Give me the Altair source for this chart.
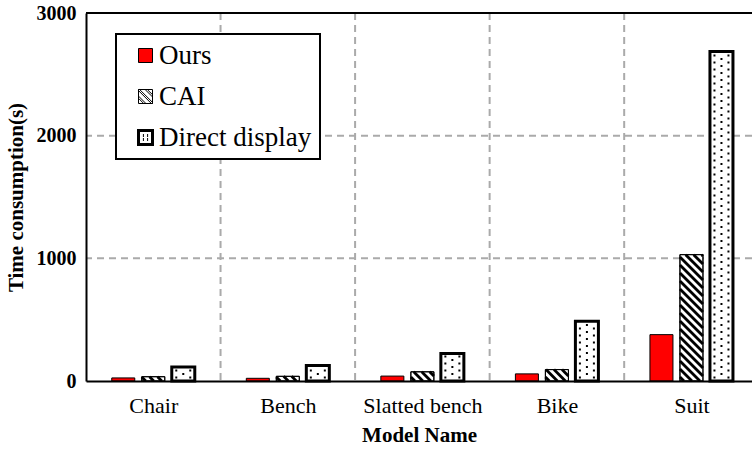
import json

import altair as alt
import pandas as pd

# ---- data -------------------------------------------------------------
categories = ["Chair", "Bench", "Slatted bench", "Bike", "Suit"]
series_names = ["Ours", "CAI", "Direct display"]
ours = [25, 22, 40, 58, 378]
cai = [35, 38, 75, 93, 1030]
direct = [115, 126, 225, 488, 2686]
y_ticks = [0, 1000, 2000, 3000]

# ---- layout -----------------------------------------------------------
W, H = 666, 368
X_MAX = 4.95                 # visible share of the category axis
Y_MAX = y_ticks[-1]
PX_X = W / X_MAX             # pixels per category unit
PX_Y = H / Y_MAX             # pixels per second
BAR_STEP = 0.223             # distance between grouped bars (category units)
BAR_W = 0.171                # bar width (category units)
FONT = "Liberation Serif, Times New Roman, serif"

rows = []
for i, cat in enumerate(categories):
    for k, (name, vals) in enumerate(zip(series_names, [ours, cai, direct])):
        center = i + 0.5 + (k - 1) * BAR_STEP
        rows.append({"model": cat, "series": name, "value": vals[i],
                     "xc": center, "x0": center - BAR_W / 2, "x1": center + BAR_W / 2})
bars = pd.DataFrame(rows)

# diagonal hatching for the CAI bars, clipped to each bar
HATCH_STEP = 8.0
hatch = []
for r in rows:
    if r["series"] != "CAI":
        continue
    w = BAR_W * PX_X
    h = r["value"] * PX_Y
    c = HATCH_STEP / 2
    while c < w + h:
        u0, u1 = max(0.0, c - h), min(w, c)
        if u1 > u0:
            hatch.append({"x": r["x0"] + u0 / PX_X, "y": (c - u0) / PX_Y,
                          "x2": r["x0"] + u1 / PX_X, "y2": (c - u1) / PX_Y})
        c += HATCH_STEP
hatch = pd.DataFrame(hatch)

# staggered dot texture for the direct-display bars
DOT_STEP = 7.0
dots = []
for r in rows:
    if r["series"] != "Direct display":
        continue
    h = r["value"] * PX_Y
    for j, du in enumerate([-7.0, 0.0, 7.0]):
        v = DOT_STEP if j == 1 else DOT_STEP / 2
        while v < h - 2.5:
            dots.append({"x": r["xc"] + du / PX_X, "y": v / PX_Y})
            v += DOT_STEP
dots = pd.DataFrame(dots)


# ---- legend symbols (custom paths in the [-1, 1] box) ----------------
def clip_halfplane(pts, a, b, e):
    out = []
    for i in range(len(pts)):
        p, q = pts[i - 1], pts[i]
        fp = a * p[0] + b * p[1] - e
        fq = a * q[0] + b * q[1] - e
        if fq <= 0:
            if fp > 0:
                t = fp / (fp - fq)
                out.append((p[0] + t * (q[0] - p[0]), p[1] + t * (q[1] - p[1])))
            out.append(q)
        elif fp <= 0:
            t = fp / (fp - fq)
            out.append((p[0] + t * (q[0] - p[0]), p[1] + t * (q[1] - p[1])))
    return out


def poly_path(pts, close=True):
    return "M" + "L".join(f"{x:.3f},{y:.3f}" for x, y in pts) + ("Z" if close else "")


unit_square = [(-1.0, -1.0), (1.0, -1.0), (1.0, 1.0), (-1.0, 1.0)]

cai_path = poly_path(unit_square)
for c in (-1.1, 0.0, 1.1):
    band = clip_halfplane(unit_square, -1, 1, c + 0.16)
    band = clip_halfplane(band, 1, -1, -(c - 0.16))
    if len(band) >= 3:
        cai_path += poly_path(band)

direct_path = poly_path(unit_square)
for cx, cy in [(-0.3, -0.3), (0.3, -0.3), (-0.3, 0.3), (0.3, 0.3)]:
    direct_path += poly_path([(cx - 0.07, cy), (cx + 0.07, cy)], close=False)

symbol_expr = (
    f"datum.value === 'CAI' ? '{cai_path}' : "
    f"(datum.value === 'Direct display' ? '{direct_path}' : 'square')"
)
is_direct = alt.datum.series == "Direct display"

# ---- chart ------------------------------------------------------------
x_scale = alt.Scale(domain=[0, X_MAX], nice=False, zero=False)
y_scale = alt.Scale(domain=[0, Y_MAX], nice=False)

x_axis = alt.Axis(
    values=[i + 0.5 for i in range(len(categories))],
    labelExpr=f"{json.dumps(categories)}[floor(datum.value)]",
    title="Model Name", grid=False, ticks=False,
    domainColor="black", domainWidth=2,
    labelFont=FONT, labelFontSize=22, labelColor="black", labelPadding=14,
    labelFlush=False, labelOverlap=False,
    titleFont=FONT, titleFontSize=21, titleFontWeight="bold", titleColor="black",
    titlePadding=8, zindex=1,
)
y_axis = alt.Axis(
    values=y_ticks, format="d", title="Time consumption(s)", grid=False, ticks=False,
    domainColor="black", domainWidth=2,
    labelFont=FONT, labelFontSize=20, labelFontWeight="bold", labelColor="black",
    labelPadding=10,
    titleFont=FONT, titleFontSize=21, titleFontWeight="bold", titleColor="black",
    titlePadding=10, zindex=1,
)

grid_style = dict(color="#aaaaaa", strokeWidth=2, strokeDash=[7, 5])
grid_v = alt.Chart(pd.DataFrame({"b": list(range(1, len(categories)))})).mark_rule(
    **grid_style).encode(x=alt.X("b:Q", scale=x_scale))
grid_h = alt.Chart(pd.DataFrame({"t": y_ticks[1:-1]})).mark_rule(
    **grid_style).encode(y=alt.Y("t:Q", scale=y_scale))

all_bars = alt.Chart(bars).mark_rect(stroke="black", strokeJoin="miter").encode(
    x=alt.X("x0:Q", scale=x_scale, axis=x_axis),
    x2="x1:Q",
    y=alt.Y("value:Q", scale=y_scale, axis=y_axis),
    y2=alt.datum(0),
    fill=alt.Fill(
        "series:N",
        scale=alt.Scale(domain=series_names, range=["#ff0000", "white", "white"]),
        legend=alt.Legend(
            title=None, orient="none", legendX=30, legendY=21, direction="vertical",
            labelFont=FONT, labelFontSize=27, labelColor="black", labelOffset=0,
            labelExpr="datum.label + '\u00a0\u00a0'",
            symbolType={"expr": symbol_expr},
            symbolStrokeWidth={"expr": "datum.value === 'Direct display' ? 3 : 1"},
            symbolSize=196, symbolStrokeColor="black", symbolOpacity=1, symbolOffset=8,
            padding=8, rowPadding=13, strokeColor="black", fillColor="white",
        ),
    ),
    strokeWidth=alt.condition(is_direct, alt.value(3), alt.value(1)),
)

cai_lines = alt.Chart(hatch).mark_rule(color="black", strokeWidth=2.8, strokeCap="butt").encode(
    x=alt.X("x:Q", scale=x_scale), x2="x2:Q",
    y=alt.Y("y:Q", scale=y_scale), y2="y2:Q",
)
cai_outline = alt.Chart(bars).transform_filter(alt.datum.series == "CAI").mark_rect(
    fillOpacity=0, stroke="black", strokeWidth=1).encode(
    x=alt.X("x0:Q", scale=x_scale), x2="x1:Q",
    y=alt.Y("value:Q", scale=y_scale), y2=alt.datum(0),
)
direct_dots = alt.Chart(dots).mark_square(size=4, color="black", opacity=1, filled=True).encode(
    x=alt.X("x:Q", scale=x_scale), y=alt.Y("y:Q", scale=y_scale),
)

top_frame = alt.Chart(pd.DataFrame({"t": [Y_MAX]})).mark_rule(color="black", strokeWidth=2).encode(
    y=alt.Y("t:Q", scale=y_scale))

chart = alt.layer(
    grid_v, grid_h, all_bars, cai_lines, cai_outline, direct_dots, top_frame,
).properties(
    width=W, height=H,
    padding={"left": 86, "top": 13, "right": 0, "bottom": 452 - 13 - H},
    autosize=alt.AutoSizeParams(type="none"),
    background="white",
).configure_view(stroke=None).configure_legend(strokeWidth=2)

chart.save("out.html", embed_options={"renderer": "svg", "actions": False})
